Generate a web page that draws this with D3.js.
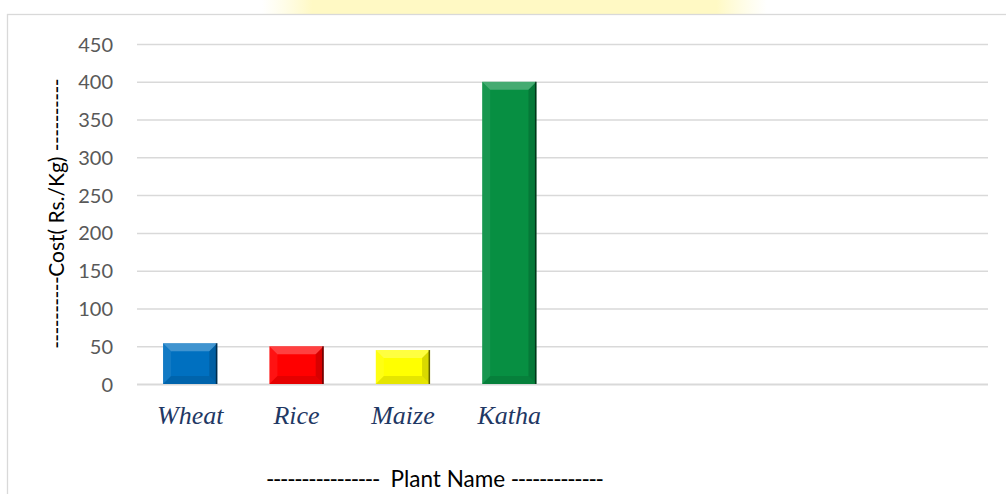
<!DOCTYPE html>
<html><head><meta charset="utf-8">
<script src="https://cdnjs.cloudflare.com/ajax/libs/d3/7.8.5/d3.min.js"></script>
<style>
html,body{margin:0;padding:0;background:#fff;}
svg{display:block;}
</style></head>
<body>
<script>
const categories = ["Wheat","Rice","Maize","Katha","","","",""];
const plants = ["Wheat","Rice","Maize","Katha"];
const costs = [54, 50, 45, 400];
const barColors = ["#0070c0","#ff0000","#ffff00","#078f42"];
const yTicks = [0,50,100,150,200,250,300,350,400,450];
const yTitleParts = ["----------","Cost( Rs./Kg) ","----------"];
const xTitleParts = ["----------------","  Plant Name ","-------------"];

const W = 1006, H = 494;
const m = {left:137, right:18, top:44, bottom:110};
const svg = d3.select("body").append("svg").attr("width",W).attr("height",H);
const FONT = "Lato, 'Open Sans', sans-serif";

// faint watermark band at top
const defs = svg.append("defs");
const wg = defs.append("linearGradient").attr("id","wm");
wg.append("stop").attr("offset","0").attr("stop-color","#fffbd0").attr("stop-opacity",0);
wg.append("stop").attr("offset","0.1").attr("stop-color","#fff9c4").attr("stop-opacity",1);
wg.append("stop").attr("offset","0.9").attr("stop-color","#fff9c4").attr("stop-opacity",1);
wg.append("stop").attr("offset","1").attr("stop-color","#fffbd0").attr("stop-opacity",0);
svg.append("rect").attr("x",262).attr("y",0).attr("width",505).attr("height",14).attr("fill","url(#wm)");

// chart border
svg.append("rect").attr("x",7.5).attr("y",14.5).attr("width",1200).attr("height",700)
  .attr("fill","none").attr("stroke","#d9d9d9").attr("stroke-width",1.3);

const x = d3.scaleBand().domain(categories.map((c,i)=>i)).range([m.left, W-m.right]).paddingInner(0.49).paddingOuter(0.245);
const y = d3.scaleLinear().domain([0,450]).range([H-m.bottom, m.top]);

// gridlines
const yAxis = d3.axisLeft(y).tickValues(yTicks).tickSize(-(W-m.right-m.left)).tickPadding(24);
const ga = svg.append("g").attr("transform",`translate(${m.left},0)`).call(yAxis);
ga.select(".domain").remove();
ga.selectAll(".tick line").attr("stroke","#d9d9d9").attr("stroke-width",1.5);
ga.selectAll(".tick text").attr("fill","#595959").attr("font-family",FONT).attr("font-size",20).attr("dy","0.35em");
ga.selectAll(".tick").filter(d=>d===0).select("line").attr("stroke-width",2.2);

// bars with bevel
const bev = 8;
const bars = svg.append("g").selectAll("g").data(plants).join("g");
bars.each(function(p,i){
  const g = d3.select(this);
  const x0 = x(i), x1 = x(i)+x.bandwidth(), y0 = y(costs[i]), y1 = y(0);
  const col = barColors[i];
  g.append("rect").attr("x",x0).attr("y",y0).attr("width",x1-x0).attr("height",y1-y0).attr("fill",col);
  const b = Math.min(bev, (y1-y0)/2.5);
  const pts = (arr)=>arr.map(a=>a.join(",")).join(" ");
  g.append("polygon").attr("points",pts([[x0,y0],[x1,y0],[x1-b,y0+b],[x0+b,y0+b]]))
    .attr("fill","#fff").attr("opacity",0.25);
  g.append("polygon").attr("points",pts([[x0,y0],[x0+b,y0+b],[x0+b,y1-b],[x0,y1]]))
    .attr("fill","#fff").attr("opacity",0.07);
  g.append("polygon").attr("points",pts([[x1,y0],[x1,y1],[x1-b,y1-b],[x1-b,y0+b]]))
    .attr("fill","#000").attr("opacity",0.15);
  g.append("polygon").attr("points",pts([[x0,y1],[x0+b,y1-b],[x1-b,y1-b],[x1,y1]]))
    .attr("fill","#000").attr("opacity",0.1);
  g.append("line").attr("x1",x1-0.75).attr("x2",x1-0.75).attr("y1",y0).attr("y2",y1)
    .attr("stroke","#000").attr("stroke-opacity",0.55).attr("stroke-width",1.5);
});

// category labels
svg.append("g").selectAll("text").data(plants).join("text")
  .attr("x",(d,i)=>x(i)+x.bandwidth()/2).attr("y",424)
  .attr("text-anchor","middle")
  .attr("font-family","'Liberation Serif','Times New Roman',serif").attr("font-style","italic")
  .attr("font-size",26).attr("fill","#1f3864").text(d=>d);

// axis titles
const yt = svg.append("text").attr("transform","translate(64,214) rotate(-90)")
  .attr("text-anchor","middle").attr("font-family",FONT)
  .attr("font-size",21).attr("fill","#000").style("white-space","pre");
yt.selectAll("tspan").data(yTitleParts).join("tspan")
  .attr("letter-spacing",(d,i)=>i===1?null:"-0.6px").text(d=>d);

const xt = svg.append("text").attr("x",266).attr("y",487)
  .attr("font-family",FONT).style("white-space","pre")
  .attr("font-size",22.5).attr("fill","#000");
xt.selectAll("tspan").data(xTitleParts).join("tspan")
  .attr("letter-spacing",(d,i)=>i===1?null:"-1.3px").text(d=>d);
</script>
</body></html>
